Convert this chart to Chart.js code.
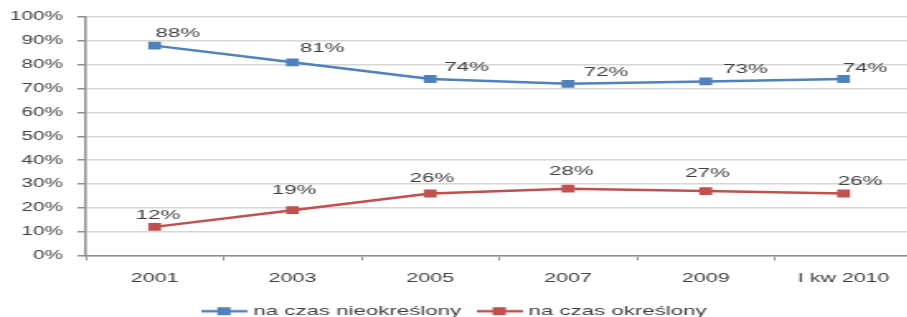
<!DOCTYPE html>
<html>
<head>
<meta charset="utf-8">
<script src="https://cdn.jsdelivr.net/npm/chart.js@4"></script>
<style>
  html, body { margin: 0; padding: 0; width: 907px; height: 317px; overflow: hidden; background: #fff; }
  /* the source picture is stretched sideways, so the chart is drawn narrow and scaled */
  #wrap { width: 560px; height: 328px; transform: scaleX(1.65); transform-origin: 0 0; }
</style>
</head>
<body>
<div id="wrap"><canvas id="chart"></canvas></div>
<script>
const categories = ["2001", "2003", "2005", "2007", "2009", "I kw 2010"];
const indefinite = [88, 81, 74, 72, 73, 74];
const fixedTerm = [12, 19, 26, 28, 27, 26];
const seriesNames = ["na czas nieokreślony", "na czas określony"];
const yMax = 100;
const yStep = 10;

const FONT = '"Liberation Sans", Arial, sans-serif';
const TEXT = "#404040";
const BLUE = "#4f81bd";
const RED = "#c0504d";

// legend icon: line with a square marker
function legendIcon(color) {
  const c = document.createElement("canvas");
  c.width = 28; c.height = 10;
  const g = c.getContext("2d");
  g.strokeStyle = color; g.lineWidth = 2.5;
  g.beginPath(); g.moveTo(0, 5); g.lineTo(28, 5); g.stroke();
  g.fillStyle = color; g.fillRect(10, 1, 8, 8);
  return c;
}
const icons = [legendIcon(BLUE), legendIcon(RED)];

// percentage labels next to the points
const pointLabels = {
  id: "pointLabels",
  afterDatasetsDraw(chart) {
    const ctx = chart.ctx;
    ctx.save();
    ctx.font = "13.5px " + FONT;
    ctx.fillStyle = TEXT;
    ctx.textAlign = "center";
    ctx.textBaseline = "middle";
    chart.data.datasets.forEach((ds, i) => {
      chart.getDatasetMeta(i).data.forEach((pt, j) => {
        ctx.fillText(ds.data[j] + "%", pt.x + ds.labelDx[j], pt.y + ds.labelDy[j]);
      });
    });
    ctx.restore();
  },
};

new Chart(document.getElementById("chart"), {
  type: "line",
  data: {
    labels: categories,
    datasets: [
      {
        label: seriesNames[0],
        data: indefinite,
        borderColor: BLUE,
        backgroundColor: BLUE,
        borderWidth: 2.5,
        pointStyle: "rect",
        pointRadius: 5.5,
        pointBorderWidth: 0,
        tension: 0,
        labelDx: [14, 18, 22, 23, 24, 13],
        labelDy: [-12, -14, -12, -11, -12, -11],
      },
      {
        label: seriesNames[1],
        data: fixedTerm,
        borderColor: RED,
        backgroundColor: RED,
        borderWidth: 2.5,
        pointStyle: "rect",
        pointRadius: 5.5,
        pointBorderWidth: 0,
        tension: 0,
        labelDx: [2, 1, 1, 2, 1, 10],
        labelDy: [-12, -20, -15, -17, -18, -12],
      },
    ],
  },
  options: {
    responsive: true,
    maintainAspectRatio: false,
    animation: false,
    layout: { padding: { top: 17, right: 7, left: 0, bottom: 0 } },
    plugins: {
      tooltip: { enabled: false },
      legend: {
        position: "bottom",
        labels: {
          usePointStyle: true,
          pointStyleWidth: 22,
          padding: 12,
          color: TEXT,
          font: { family: FONT, size: 13.5 },
          generateLabels(chart) {
            const items = Chart.defaults.plugins.legend.labels.generateLabels(chart);
            items.forEach((it, i) => { it.pointStyle = icons[i]; });
            return items;
          },
        },
      },
    },
    scales: {
      x: {
        offset: true,
        afterFit(scale) { scale.height = 37; },
        grid: { offset: true, drawOnChartArea: false, drawTicks: true, tickLength: 5, tickColor: "#8c8c8c" },
        border: { color: "#8c8c8c", width: 1.5 },
        ticks: { color: TEXT, padding: 10, font: { family: FONT, size: 13 }, maxRotation: 0 },
      },
      y: {
        min: 0,
        max: yMax,
        afterFit(scale) { scale.width = 52; },
        grid: { color: "#d6d6d6", lineWidth: 1.5, tickLength: 5, tickColor: "#8c8c8c" },
        border: { color: "#8c8c8c", width: 1.5 },
        ticks: {
          stepSize: yStep,
          padding: 9,
          color: TEXT,
          font: { family: FONT, size: 12.5 },
          callback: (v) => v + "%",
        },
      },
    },
  },
  plugins: [pointLabels],
});
</script>
</body>
</html>
